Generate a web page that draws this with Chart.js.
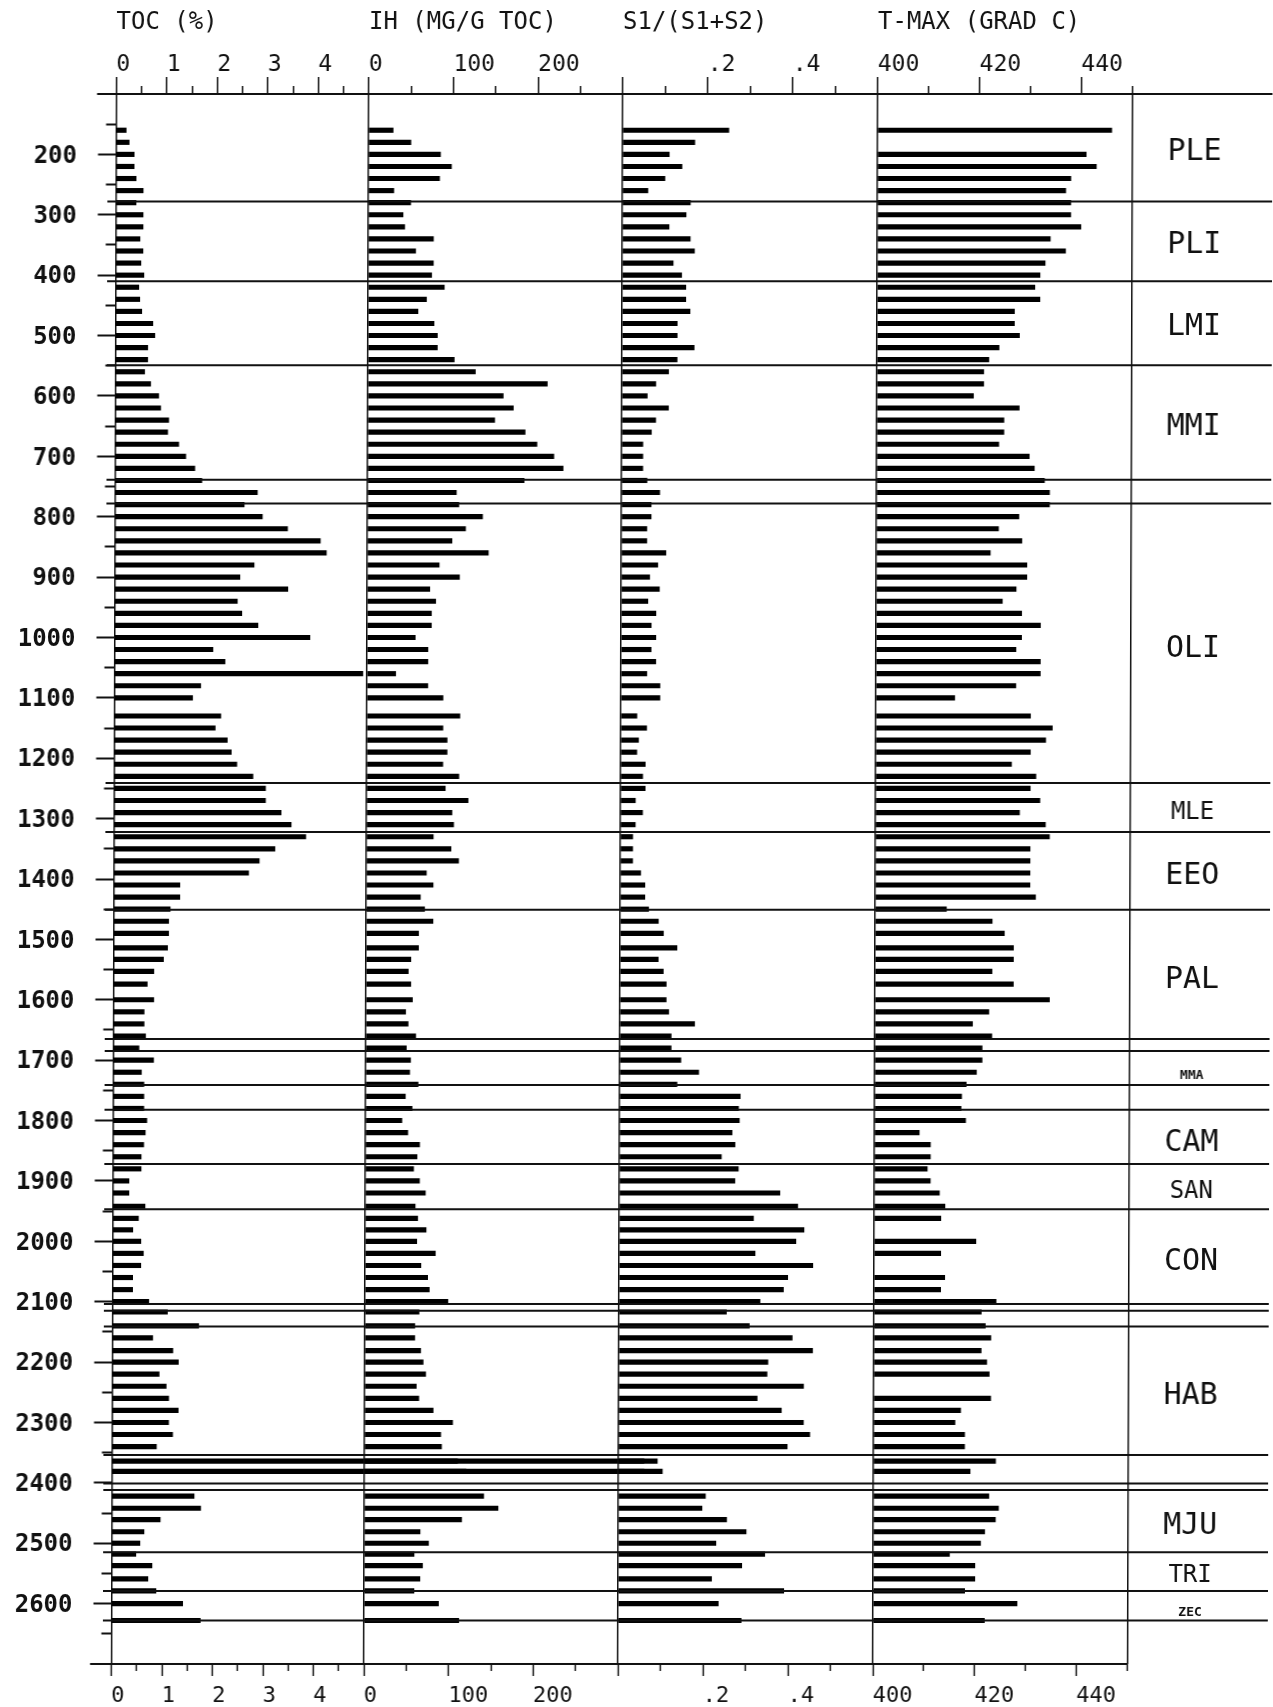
<!DOCTYPE html>
<html>
<head>
<meta charset="utf-8">
<script src="https://cdn.jsdelivr.net/npm/chart.js@4.4.1/dist/chart.umd.min.js"></script>
<style>
  html, body { margin: 0; padding: 0; background: #fff; }
  #plot { position: relative; width: 1273px; height: 1707px; transform: skewX(-0.18deg); transform-origin: 0 0; }
  #plot canvas { position: absolute; left: 0; top: 0; }
</style>
</head>
<body>
<div id="plot">
  <canvas id="toc" width="1273" height="1707"></canvas>
  <canvas id="ih" width="1273" height="1707"></canvas>
  <canvas id="s1" width="1273" height="1707"></canvas>
  <canvas id="tmax" width="1273" height="1707"></canvas>
  <canvas id="zones" width="1273" height="1707"></canvas>
</div>
<script>
// sample depths (m)
const depths = [
  160, 180, 200, 220, 240, 260, 280, 300, 320, 340,
  360, 380, 400, 420, 440, 460, 480, 500, 520, 540,
  560, 580, 600, 620, 640, 660, 680, 700, 720, 740,
  760, 780, 800, 820, 840, 860, 880, 900, 920, 940,
  960, 980, 1000, 1020, 1040, 1060, 1080, 1100, 1130, 1150,
  1170, 1190, 1210, 1230, 1250, 1270, 1290, 1310, 1330, 1350,
  1370, 1390, 1410, 1430, 1450, 1470, 1490, 1514, 1533, 1553,
  1574, 1600, 1620, 1640, 1660, 1680, 1700, 1720, 1740, 1760,
  1780, 1800, 1820, 1840, 1860, 1880, 1900, 1920, 1942, 1962,
  1981, 2000, 2020, 2040, 2060, 2080, 2100, 2117, 2140, 2160,
  2181, 2200, 2220, 2240, 2260, 2280, 2300, 2320, 2340, 2364,
  2381, 2422, 2442, 2461, 2481, 2500, 2518, 2537, 2559, 2579,
  2600, 2628
];

// TOC (%)
const toc = [
  0.20, 0.26, 0.36, 0.36, 0.40, 0.54, 0.40, 0.54, 0.54, 0.48,
  0.54, 0.50, 0.56, 0.46, 0.48, 0.52, 0.74, 0.78, 0.64, 0.64,
  0.58, 0.70, 0.86, 0.90, 1.06, 1.04, 1.26, 1.40, 1.58, 1.72,
  2.82, 2.56, 2.92, 3.42, 4.07, 4.19, 2.76, 2.48, 3.43, 2.43,
  2.52, 2.84, 3.87, 1.95, 2.19, 4.92, 1.71, 1.55, 2.11, 2.00,
  2.24, 2.32, 2.43, 2.75, 3.00, 3.00, 3.31, 3.51, 3.80, 3.19,
  2.88, 2.67, 1.31, 1.31, 1.12, 1.09, 1.09, 1.07, 0.99, 0.80,
  0.67, 0.80, 0.61, 0.61, 0.64, 0.51, 0.80, 0.56, 0.61, 0.61,
  0.61, 0.67, 0.64, 0.61, 0.56, 0.56, 0.32, 0.32, 0.64, 0.51,
  0.40, 0.56, 0.61, 0.56, 0.40, 0.40, 0.72, 1.09, 1.71, 0.80,
  1.20, 1.31, 0.93, 1.07, 1.12, 1.31, 1.12, 1.20, 0.88, 10.8,
  10.9, 1.63, 1.76, 0.96, 0.64, 0.56, 0.48, 0.80, 0.72, 0.88,
  1.41, 1.76
];

// hydrogen index (mg/g TOC)
const ih = [
  29, 50, 85, 98, 84, 30, 50, 41, 43, 77,
  56, 77, 75, 90, 69, 59, 78, 82, 82, 102,
  127, 212, 160, 172, 150, 186, 200, 220, 231, 185,
  105, 108, 136, 116, 100, 143, 85, 109, 74, 81,
  76, 76, 57, 72, 72, 34, 72, 90, 110, 90,
  95, 95, 90, 109, 93, 120, 101, 103, 79, 100,
  109, 71, 79, 64, 69, 79, 62, 62, 53, 50,
  53, 55, 47, 50, 59, 48, 53, 52, 62, 47,
  55, 43, 50, 64, 61, 57, 64, 71, 59, 62,
  72, 61, 83, 66, 74, 76, 98, 64, 59, 59,
  66, 69, 72, 61, 64, 81, 104, 90, 91, 110,
  120, 141, 158, 115, 66, 76, 59, 69, 66, 59,
  88, 112
];

// production index S1/(S1+S2)
const s1Ratio = [
  0.25, 0.17, 0.11, 0.14, 0.10, 0.06, 0.16, 0.15, 0.11, 0.16,
  0.17, 0.12, 0.14, 0.15, 0.15, 0.16, 0.13, 0.13, 0.17, 0.13,
  0.11, 0.08, 0.06, 0.11, 0.08, 0.07, 0.05, 0.05, 0.05, 0.06,
  0.09, 0.07, 0.07, 0.06, 0.06, 0.105, 0.086, 0.067, 0.09, 0.063,
  0.082, 0.071, 0.082, 0.071, 0.082, 0.061, 0.092, 0.092, 0.038, 0.061,
  0.042, 0.038, 0.058, 0.052, 0.058, 0.035, 0.052, 0.035, 0.029, 0.029,
  0.029, 0.048, 0.058, 0.058, 0.067, 0.09, 0.102, 0.134, 0.09, 0.102,
  0.109, 0.109, 0.115, 0.176, 0.121, 0.121, 0.144, 0.186, 0.135, 0.284,
  0.28, 0.282, 0.265, 0.272, 0.24, 0.28, 0.272, 0.378, 0.42, 0.316,
  0.435, 0.416, 0.32, 0.456, 0.397, 0.387, 0.332, 0.253, 0.307, 0.408,
  0.456, 0.351, 0.349, 0.435, 0.326, 0.383, 0.435, 0.45, 0.397, 0.06,
  0.06, 0.205, 0.197, 0.255, 0.301, 0.23, 0.345, 0.291, 0.22, 0.39,
  0.236, 0.29
];

// T-max (deg C), null = not measured
const tmax = [
  446, null, 441, 443, 438, 437, 438, 438, 440, 434,
  437, 433, 432, 431, 432, 427, 427, 428, 424, 422,
  421, 421, 419, 428, 425, 425, 424, 430, 431, 433,
  434, 434, 428, 424, 428.6, 422.4, 429.6, 429.6, 427.5, 424.8,
  428.6, 432.3, 428.6, 427.5, 432.3, 432.3, 427.5, 415.5, 430.4, 434.7,
  433.4, 430.4, 426.7, 431.5, 430.4, 432.3, 428.3, 433.4, 434.2, 430.4,
  430.4, 430.4, 430.4, 431.5, 414, 423, 425.4, 427.2, 427.2, 423,
  427.2, 434.3, 422.4, 419.2, 423, 421.1, 421.1, 420, 418, 417.1,
  417, 417.9, 408.8, 411, 411, 410.4, 411, 412.8, 413.9, 413.1,
  null, 420, 413.1, null, 413.9, 413.1, 424, 421.1, 421.9, 423,
  421.1, 422.2, 422.7, null, 423, 417.1, 416, 417.9, 417.9, 424,
  419, 422.7, 424.6, 424, 421.9, 421.1, 415, 420, 420, 418,
  428.3, 421.9
];

// stratigraphy
const zoneNames = ['PLE', 'PLI', 'LMI', 'MMI', 'OLI', 'MLE', 'EEO', 'PAL', 'MMA', 'CAM', 'SAN', 'CON', 'HAB', 'MJU', 'TRI', 'ZEC'];
const zoneLabelDepths = [191, 346, 481, 647, 1014, 1285, 1390, 1563, 1720, 1832, 1913, 2030, 2251, 2467, 2549, 2610];
const boundaryDepths = [278, 410, 549, 739, 778, 1241, 1322, 1451, 1665, 1685, 1741, 1782, 1872, 1947, 2104, 2115, 2141, 2354, 2401, 2412, 2515, 2579, 2628];

// axis ticks
const depthTicks = [200, 300, 400, 500, 600, 700, 800, 900, 1000, 1100, 1200, 1300, 1400, 1500, 1600, 1700, 1800, 1900, 2000, 2100, 2200, 2300, 2400, 2500, 2600];
const depthMinorTicks = [150, 250, 350, 450, 550, 650, 750, 850, 950, 1050, 1150, 1250, 1350, 1450, 1550, 1650, 1750, 1850, 1950, 2050, 2150, 2250, 2350, 2450, 2550, 2650];
const tocTicks = [0, 1, 2, 3, 4];
const tocMinorTicks = [0.5, 1.5, 2.5, 3.5, 4.5];
const ihTicks = [0, 100, 200];
const ihMinorTicks = [50, 150, 250];
const s1Ticks = [0, 0.2, 0.4];
const s1MinorTicks = [0.1, 0.3, 0.5];
const tmaxTicks = [400, 420, 440];
const tmaxMinorTicks = [410, 430, 450];

const FONT = "'DejaVu Sans Mono', 'Liberation Mono', monospace";
const INK = '#111';
const W = 1273, H = 1707;
const TOP = 94, BOTTOM = 1664;
const DEPTH_MIN = 100, DEPTH_MAX = 2700;

Chart.defaults.font.family = FONT;
Chart.defaults.color = INK;

const only = vals => s => { s.ticks = vals.map(v => ({ value: v })); };
const fix = (prop, v) => s => { s[prop] = v; };
const clear = 'rgba(0,0,0,0)';

// depth runs down the page; no category offset on the index axis
function depthScale(extra) {
  const base = { type: 'linear', min: DEPTH_MIN, max: DEPTH_MAX, reverse: true, offset: false };
  const merged = Object.assign(base, extra);
  merged.grid = Object.assign({ offset: false }, extra.grid || {});
  return merged;
}

function panelChart(p) {
  const points = depths.map((d, i) => ({ x: p.values[i], y: d })).filter(pt => pt.x !== null);
  const scales = {
    x: {
      type: 'linear', position: 'top', min: p.min, max: p.max, weight: 1,
      afterBuildTicks: only(p.major), afterFit: fix('height', TOP),
      grid: {
        drawOnChartArea: true,
        color: c => (c.tick && c.tick.value === p.min) ? INK : clear,
        lineWidth: 1.5, tickLength: 17, tickWidth: 1.5, tickColor: INK
      },
      border: { display: true, color: INK, width: 2 },
      ticks: { callback: p.fmt, align: 'start', padding: -1.5, maxRotation: 0, minRotation: 0, autoSkip: false, color: INK, font: { family: FONT, size: 23 } },
      title: { display: true, text: p.title, align: 'start', color: INK, font: { family: FONT, size: 24 }, padding: { top: 8, bottom: 0 } }
    },
    xMinor: {
      type: 'linear', position: 'top', min: p.min, max: p.max, weight: 0,
      afterBuildTicks: only(p.minor), afterFit: fix('height', 0),
      grid: {
        drawOnChartArea: p.edge !== undefined,
        color: c => (c.tick && c.tick.value === p.edge) ? INK : clear,
        lineWidth: 1.5, tickLength: 8, tickWidth: 1.5, tickColor: INK
      },
      border: { display: false },
      ticks: { display: false }
    },
    xBottom: {
      type: 'linear', position: 'bottom', min: p.min, max: p.max, weight: 1,
      afterBuildTicks: only(p.major), afterFit: fix('height', H - BOTTOM),
      grid: { drawOnChartArea: false, tickLength: 12, tickWidth: 1.5, tickColor: INK },
      border: { display: true, color: INK, width: 2 },
      ticks: { callback: p.fmt, align: 'start', padding: 7, maxRotation: 0, minRotation: 0, autoSkip: false, color: INK, font: { family: FONT, size: 22 } }
    },
    xBottomMinor: {
      type: 'linear', position: 'bottom', min: p.min, max: p.max, weight: 0,
      afterBuildTicks: only(p.minor), afterFit: fix('height', 0),
      grid: { drawOnChartArea: false, tickLength: 7, tickWidth: 1.5, tickColor: INK },
      border: { display: false },
      ticks: { display: false }
    }
  };
  if (p.depthAxis) {
    scales.y = depthScale({
      position: 'left', weight: 1,
      afterBuildTicks: only(depthTicks), afterFit: fix('width', p.left),
      grid: { drawOnChartArea: false, tickLength: 18, tickWidth: 2, tickColor: INK },
      border: { display: false },
      ticks: { callback: v => String(v), padding: 21, labelOffset: 2, autoSkip: false, color: INK, font: { family: FONT, size: 24, weight: 'bold' } }
    });
    scales.yMinor = depthScale({
      position: 'left', weight: 0,
      afterBuildTicks: only(depthMinorTicks), afterFit: fix('width', 0),
      grid: { drawOnChartArea: false, tickLength: 10, tickWidth: 2, tickColor: INK },
      border: { display: false },
      ticks: { display: false }
    });
  } else {
    scales.y = depthScale({ display: false });
  }
  const dataset = {
    data: points, backgroundColor: '#000', borderWidth: 0, barThickness: 4.5,
    xAxisID: 'x', yAxisID: 'y'
  };
  if (p.clip === false) dataset.clip = false;
  if (p.base !== undefined) dataset.base = p.base;

  return new Chart(document.getElementById(p.id), {
    type: 'bar',
    data: { datasets: [dataset] },
    options: {
      indexAxis: 'y', responsive: false, animation: false, events: [],
      layout: { autoPadding: false, padding: { left: p.depthAxis ? 0 : p.left, right: W - p.right, top: 0, bottom: 0 } },
      plugins: { legend: { display: false }, tooltip: { enabled: false } },
      scales
    }
  });
}

panelChart({ id: 'toc', left: 116.5, right: 369, min: 0, max: 5, values: toc, title: 'TOC (%)',
  major: tocTicks, minor: tocMinorTicks, fmt: v => String(v), depthAxis: true, clip: false });
panelChart({ id: 'ih', left: 369, right: 623, min: 0, max: 300, values: ih, title: 'IH (MG/G TOC)',
  major: ihTicks, minor: ihMinorTicks, fmt: v => String(v) });
panelChart({ id: 's1', left: 623, right: 878, min: 0, max: 0.6, values: s1Ratio, title: 'S1/(S1+S2)',
  major: s1Ticks, minor: s1MinorTicks, fmt: v => v === 0 ? '' : '.' + Math.round(v * 10) });
panelChart({ id: 'tmax', left: 878, right: 1132.5, min: 400, max: 450, values: tmax, title: 'T-MAX (GRAD C)',
  major: tmaxTicks, minor: tmaxMinorTicks, fmt: v => String(v), base: 400, edge: 450 });

// zone boundaries and unit names
const zoneFontSize = { MLE: 24, SAN: 24, TRI: 24, MMA: 13, ZEC: 13 };
const linePoints = [];
boundaryDepths.forEach(d => { linePoints.push({ x: 0, y: d }, { x: 1.2, y: d }, { x: null, y: null }); });
// frame: top line runs right across the unit column, bottom line stub left of the axis
linePoints.push({ x: -0.01, y: DEPTH_MIN }, { x: 1.2, y: DEPTH_MIN }, { x: null, y: null });
linePoints.push({ x: -0.012, y: DEPTH_MAX }, { x: 0.01, y: DEPTH_MAX });

new Chart(document.getElementById('zones'), {
  type: 'line',
  data: { datasets: [{ data: linePoints, borderColor: INK, borderWidth: 2, pointRadius: 0, clip: false, spanGaps: false, tension: 0 }] },
  options: {
    responsive: false, animation: false, events: [],
    layout: { autoPadding: false, padding: { left: 108, right: 0, top: TOP, bottom: H - BOTTOM } },
    plugins: { legend: { display: false }, tooltip: { enabled: false } },
    scales: {
      x: { type: 'linear', min: 0, max: 1, display: false },
      y: depthScale({ display: false }),
      yZones: depthScale({
        position: 'right',
        afterBuildTicks: only(zoneLabelDepths), afterFit: fix('width', 105),
        grid: { display: false, drawTicks: false },
        border: { display: false },
        ticks: {
          autoSkip: false, crossAlign: 'center', padding: 0, labelOffset: 3, color: INK,
          callback: (v, i) => zoneNames[i],
          font: c => {
            const name = zoneNames[c.index];
            const size = zoneFontSize[name] || 30;
            return { family: FONT, size, weight: size < 16 ? 'bold' : 'normal' };
          }
        }
      })
    }
  }
});
</script>
</body>
</html>
